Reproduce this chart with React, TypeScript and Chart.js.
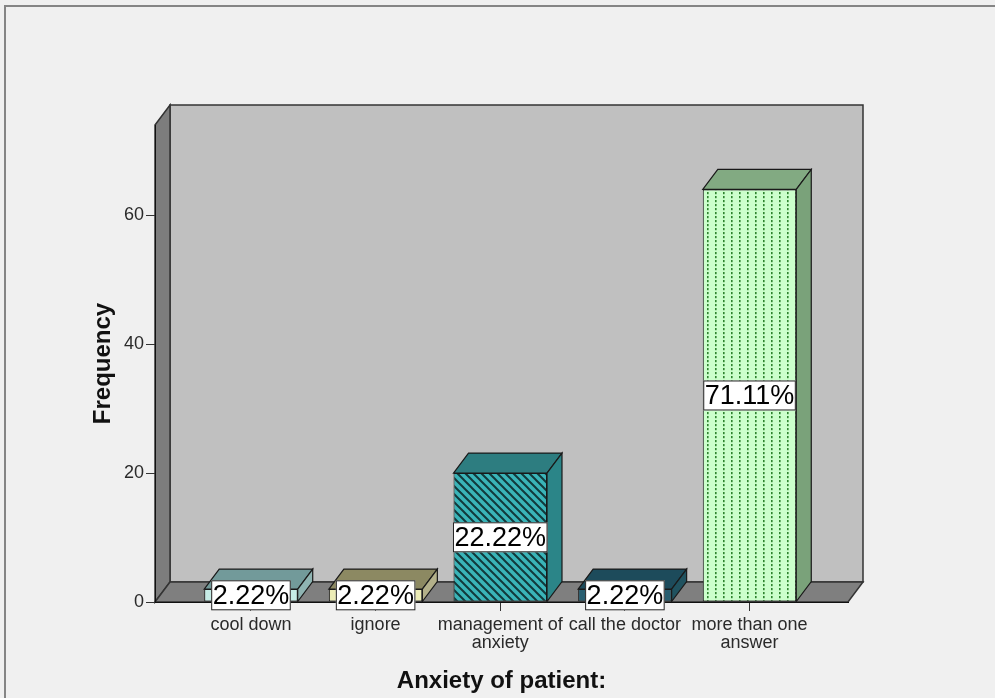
import React, { useEffect, useRef } from 'react';
import { Chart, registerables } from 'chart.js';

Chart.register(...registerables);

const FONT = '"Liberation Sans", Arial, sans-serif';

const categoryLines: string[][] = [
  ['cool down'],
  ['ignore'],
  ['management of', 'anxiety'],
  ['call the doctor'],
  ['more than one', 'answer'],
];
const frequencies = [2, 2, 20, 2, 64];
const percentLabels = ['2.22%', '2.22%', '22.22%', '2.22%', '71.11%'];
const yTickValues = [0, 20, 40, 60];
const frontColors = ['#c6ece6', '#ececb6', '#3ab4b8', '#285e70', '#ccffcc'];
const topColors = ['#729a9a', '#8c8962', '#2d7d80', '#1d4b5b', '#82aa82'];
const sideColors = ['#8fb4b2', '#b3b08a', '#2b8588', '#20525f', '#7aa27a'];

const DX = 15;
const DY = -20;

function makeHatch(ctx: CanvasRenderingContext2D, bg: string): CanvasPattern | string {
  const s = 8;
  const t = document.createElement('canvas');
  t.width = s;
  t.height = s;
  const c = t.getContext('2d')!;
  c.fillStyle = bg;
  c.fillRect(0, 0, s, s);
  c.strokeStyle = '#12393b';
  c.lineWidth = 2;
  c.beginPath();
  c.moveTo(-1, -1);
  c.lineTo(s + 1, s + 1);
  c.moveTo(-1, s - 1);
  c.lineTo(1, s + 1);
  c.moveTo(s - 1, -1);
  c.lineTo(s + 1, 1);
  c.stroke();
  return ctx.createPattern(t, 'repeat') || bg;
}

function makeDots(ctx: CanvasRenderingContext2D, bg: string): CanvasPattern | string {
  const t = document.createElement('canvas');
  t.width = 8;
  t.height = 4;
  const c = t.getContext('2d')!;
  c.fillStyle = bg;
  c.fillRect(0, 0, 8, 4);
  c.fillStyle = '#2f842f';
  c.fillRect(3, 0, 1.6, 2.2);
  return ctx.createPattern(t, 'repeat') || bg;
}

function poly(ctx: CanvasRenderingContext2D, pts: number[][], fill: string, stroke: string, lw: number) {
  ctx.beginPath();
  ctx.moveTo(pts[0][0], pts[0][1]);
  for (let i = 1; i < pts.length; i++) ctx.lineTo(pts[i][0], pts[i][1]);
  ctx.closePath();
  ctx.fillStyle = fill;
  ctx.fill();
  ctx.strokeStyle = stroke;
  ctx.lineWidth = lw;
  ctx.stroke();
}

const box3d = {
  id: 'box3d',
  beforeDraw(chart: any) {
    const ctx: CanvasRenderingContext2D = chart.ctx;
    const { left, right, top, bottom } = chart.chartArea;
    ctx.save();
    ctx.fillStyle = '#f0f0f0';
    ctx.fillRect(0, 0, chart.width, chart.height);
    ctx.strokeStyle = '#858585';
    ctx.lineWidth = 2;
    ctx.beginPath();
    ctx.moveTo(5, chart.height);
    ctx.lineTo(5, 6);
    ctx.lineTo(chart.width, 6);
    ctx.stroke();
    poly(ctx, [[left + DX, top + DY], [right + DX, top + DY], [right + DX, bottom + DY], [left + DX, bottom + DY]], '#c0c0c0', '#333', 1.5);
    poly(ctx, [[left, top], [left + DX, top + DY], [left + DX, bottom + DY], [left, bottom]], '#7d7d7d', '#333', 1.5);
    poly(ctx, [[left, bottom], [left + DX, bottom + DY], [right + DX, bottom + DY], [right, bottom]], '#7f7f7f', '#333', 1.5);
    ctx.restore();
  },
  afterDatasetsDraw(chart: any) {
    const ctx: CanvasRenderingContext2D = chart.ctx;
    const meta = chart.getDatasetMeta(0);
    ctx.save();
    meta.data.forEach((el: any, i: number) => {
      const { x, y, base, width } = el.getProps(['x', 'y', 'base', 'width'], true);
      const l = x - width / 2;
      const r = x + width / 2;
      poly(ctx, [[l, y], [l + DX, y + DY], [r + DX, y + DY], [r, y]], topColors[i], '#1a1a1a', 1.2);
      poly(ctx, [[r, y], [r + DX, y + DY], [r + DX, base + DY], [r, base]], sideColors[i], '#1a1a1a', 1.2);
    });
    meta.data.forEach((el: any, i: number) => {
      const { x, y, base } = el.getProps(['x', 'y', 'base'], true);
      const cy = (y + base) / 2;
      ctx.font = `27px ${FONT}`;
      const tw = ctx.measureText(percentLabels[i]).width;
      const bw = tw + 3;
      const bh = 30;
      ctx.fillStyle = '#ffffff';
      ctx.fillRect(x - bw / 2, cy - bh / 2, bw, bh);
      ctx.strokeStyle = '#222';
      ctx.lineWidth = 1;
      ctx.strokeRect(x - bw / 2 + 0.5, cy - bh / 2 + 0.5, bw - 1, bh - 1);
      ctx.fillStyle = '#000';
      ctx.textAlign = 'center';
      ctx.textBaseline = 'middle';
      ctx.fillText(percentLabels[i], x, cy + 1);
    });
    ctx.restore();
  },
};

export default function App() {
  const ref = useRef<HTMLCanvasElement>(null);
  useEffect(() => {
    const canvas = ref.current!;
    const ctx = canvas.getContext('2d')!;
    const fronts = frontColors.map((c, i) => (i === 2 ? makeHatch(ctx, c) : i === 4 ? makeDots(ctx, c) : c));
    const chart = new Chart(canvas, {
      type: 'bar',
      data: {
        datasets: [
          {
            data: frequencies.map((v, i) => ({ x: i, y: v })),
            backgroundColor: fronts as any,
            borderColor: '#1a1a1a',
            borderWidth: 1,
            borderSkipped: false,
            barPercentage: 0.75,
            categoryPercentage: 1,
          },
        ],
      },
      options: {
        responsive: false,
        animation: false,
        devicePixelRatio: 1,
        layout: { padding: { top: 125, right: 147, left: 0, bottom: 0 } },
        plugins: { legend: { display: false }, tooltip: { enabled: false } },
        scales: {
          x: {
            type: 'linear',
            min: -0.77,
            max: 4.79,
            offset: false,
            afterBuildTicks: (axis: any) => {
              axis.ticks = categoryLines.map((_, i) => ({ value: i }));
            },
            afterFit: (axis: any) => {
              axis.height = 96;
            },
            grid: { offset: false, drawOnChartArea: false, drawTicks: true, tickLength: 9, color: '#333', tickColor: '#333' },
            border: { display: true, color: '#111', width: 1 },
            ticks: {
              callback: (v: any) => categoryLines[Math.round(Number(v))] ?? '',
              font: { family: FONT, size: 18, lineHeight: 1 },
              color: '#2a2a2a',
              padding: 5,
              maxRotation: 0,
              autoSkip: false,
            },
            title: {
              display: true,
              text: 'Anxiety of patient:',
              font: { family: FONT, size: 24, weight: 'bold', lineHeight: 1 },
              color: '#111',
              padding: { top: 0, bottom: 5 },
            },
          },
          y: {
            min: 0,
            max: 74,
            afterBuildTicks: (axis: any) => {
              axis.ticks = yTickValues.map((v) => ({ value: v }));
            },
            afterFit: (axis: any) => {
              axis.width = 155;
            },
            grid: { drawOnChartArea: false, drawTicks: true, tickLength: 9, color: '#333', tickColor: '#333' },
            border: { display: true, color: '#111', width: 1 },
            ticks: { font: { family: FONT, size: 18 }, color: '#2a2a2a', padding: 2 },
            title: {
              display: true,
              text: 'Frequency',
              font: { family: FONT, size: 24, weight: 'bold', lineHeight: 1 },
              color: '#111',
              padding: { top: 91, bottom: 0 },
            },
          },
        },
      } as any,
      plugins: [box3d],
    });
    return () => chart.destroy();
  }, []);
  return (
    <div style={{ position: 'absolute', left: 0, top: 0, width: 995, height: 698 }}>
      <canvas ref={ref} width={995} height={698} style={{ display: 'block', width: 995, height: 698 }} />
    </div>
  );
}
